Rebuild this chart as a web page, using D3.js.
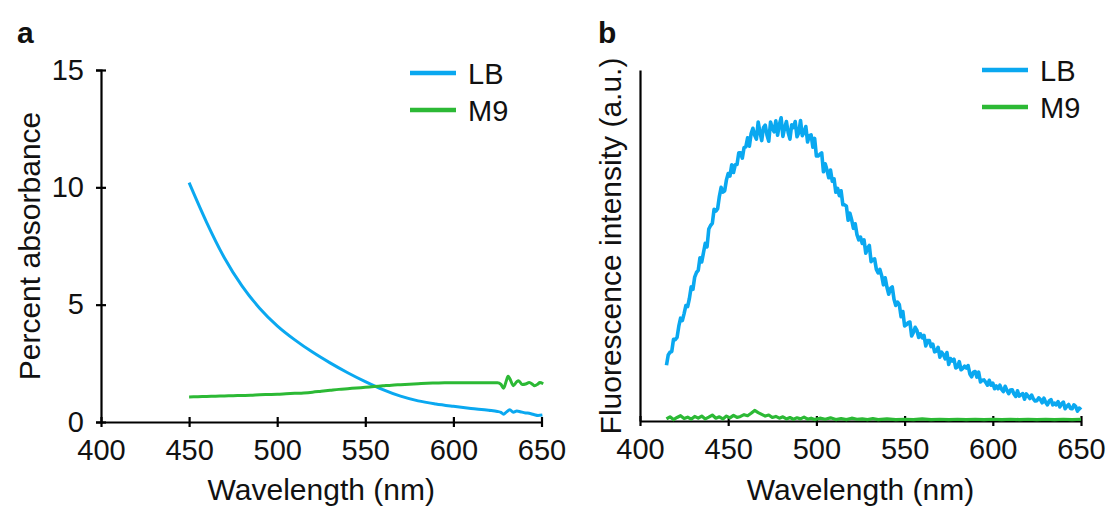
<!DOCTYPE html>
<html><head><meta charset="utf-8">
<script src="https://cdn.jsdelivr.net/npm/d3@7"></script>
<style>
html,body{margin:0;padding:0;background:#fff;}
text{font-family:"Liberation Sans",Arial,Helvetica,sans-serif;fill:#111;}
</style></head>
<body>
<svg id="chart" width="1113" height="509"></svg>
<script>
// ---------- DATA ----------
const xTicks = [400, 450, 500, 550, 600, 650];
const yTicksA = [0, 5, 10, 15];
const seriesNames = ["LB", "M9"];
const seriesColors = ["#0aa8f0", "#2cb935"];

// Panel a: percent absorbance
const absLBwl = [450,460,470,480,490,500,510,520,530,540,550,560,570,580,590,600,610,620,625,627,628.5,630,632,634,636,638,640,642,644,646,648,650.5];
const absLBval = [10.2,8.5,7.0,5.8,4.85,4.1,3.5,2.98,2.52,2.1,1.72,1.38,1.1,0.9,0.77,0.67,0.58,0.5,0.45,0.41,0.33,0.42,0.52,0.42,0.47,0.44,0.40,0.38,0.35,0.31,0.28,0.30];
const absM9wl = [450,455,460,465,470,475,480,485,490,495,500,505,510,515,520,525,530,535,540,545,550,555,560,565,570,575,580,585,590,595,600,605,610,615,620,625,627,628.5,630,631,632,634,636,637,639,641,643,645,646,648,649,651];
const absM9val = [1.07,1.08,1.09,1.1,1.11,1.12,1.13,1.14,1.16,1.17,1.18,1.2,1.22,1.24,1.27,1.31,1.35,1.39,1.42,1.45,1.48,1.51,1.54,1.57,1.59,1.61,1.63,1.65,1.66,1.67,1.67,1.67,1.67,1.67,1.67,1.67,1.6,1.44,1.75,1.95,1.85,1.55,1.72,1.76,1.6,1.62,1.68,1.6,1.54,1.62,1.68,1.63];

// Panel b: fluorescence intensity (a.u.), LB sampled every 1 nm from 415 nm
const fluoLBstart = 415;
const fluoLBval = [
0.159,0.188,0.196,0.198,0.233,0.232,0.238,0.270,0.293,0.286,
0.306,0.329,0.326,0.349,0.382,0.375,0.410,0.423,0.429,0.465,
0.453,0.480,0.506,0.496,0.547,0.557,0.563,0.603,0.598,0.605,
0.640,0.666,0.652,0.656,0.687,0.705,0.698,0.730,0.708,0.730,
0.731,0.764,0.764,0.749,0.779,0.781,0.807,0.783,0.819,0.834,
0.814,0.803,0.852,0.823,0.799,0.836,0.843,0.814,0.797,0.852,
0.835,0.824,0.855,0.814,0.845,0.864,0.811,0.835,0.853,0.822,
0.803,0.844,0.836,0.853,0.810,0.821,0.856,0.813,0.823,0.839,
0.795,0.813,0.815,0.780,0.805,0.755,0.755,0.760,0.764,0.710,
0.733,0.715,0.693,0.715,0.683,0.690,0.652,0.663,0.642,0.656,
0.616,0.616,0.612,0.572,0.592,0.573,0.549,0.562,0.531,0.516,
0.524,0.506,0.516,0.478,0.493,0.500,0.454,0.460,0.462,0.432,
0.422,0.432,0.414,0.388,0.408,0.381,0.361,0.378,0.382,0.347,
0.329,0.339,0.332,0.297,0.312,0.271,0.274,0.280,0.282,0.242,
0.252,0.267,0.258,0.238,0.248,0.237,0.244,0.214,0.229,0.229,
0.212,0.219,0.197,0.199,0.210,0.182,0.196,0.189,0.177,0.195,
0.161,0.178,0.171,0.176,0.151,0.154,0.169,0.146,0.150,0.156,
0.151,0.158,0.134,0.126,0.139,0.141,0.125,0.139,0.111,0.116,
0.117,0.110,0.102,0.116,0.102,0.108,0.092,0.100,0.092,0.102,
0.090,0.084,0.099,0.087,0.078,0.088,0.089,0.077,0.070,0.086,
0.071,0.075,0.078,0.062,0.077,0.071,0.064,0.074,0.063,0.057,
0.058,0.066,0.061,0.052,0.065,0.053,0.046,0.057,0.061,0.046,
0.051,0.046,0.055,0.040,0.049,0.054,0.035,0.042,0.047,0.036,
0.035,0.046,0.041,0.028,0.037,0.032];
const fluoM9wl = [415,417,419,421,423,425,427,429,431,433,435,437,439,441,443,445,447,449,451,453,455,457,459,461,463,465,467,469,471,473,475,477,479,481,483,485,487,489,491,493,495,497,499,502,505,508,511,514,517,520,523,526,529,532,535,540,545,550,555,560,565,570,575,580,585,590,595,600,605,610,615,620,625,630,635,640,645,650];
const fluoM9val = [0.006,0.012,0.004,0.010,0.015,0.007,0.011,0.005,0.013,0.008,0.014,0.006,0.011,0.017,0.008,0.012,0.006,0.014,0.009,0.016,0.010,0.013,0.018,0.015,0.022,0.030,0.024,0.019,0.014,0.017,0.010,0.013,0.008,0.012,0.006,0.010,0.005,0.009,0.006,0.011,0.005,0.008,0.004,0.008,0.005,0.009,0.004,0.007,0.004,0.008,0.005,0.006,0.004,0.007,0.004,0.006,0.004,0.005,0.004,0.006,0.004,0.005,0.004,0.005,0.004,0.005,0.004,0.005,0.004,0.005,0.004,0.005,0.004,0.005,0.004,0.005,0.004,0.005];

// ---------- DRAW ----------
const svg = d3.select("#chart");
const FS = 29, TFS = 30;

function zip(xs, ys){ return xs.map((x,i)=>[x, ys[i]]); }

function panel(opt){
  const g = svg.append("g");
  const x = d3.scaleLinear().domain([400,650]).range(opt.xr);
  const y = d3.scaleLinear().domain(opt.yd).range(opt.yr);
  const line = d3.line().x(d=>x(d[0])).y(d=>y(d[1])).curve(opt.curve);

  // x axis
  const xa = g.append("g").attr("transform",`translate(0,${opt.yr[0]})`)
    .call(d3.axisBottom(x).tickValues(xTicks).tickSize(5).tickSizeOuter(0).tickPadding(12));
  xa.select(".domain").attr("stroke","#000").attr("stroke-width",2.2);
  xa.selectAll(".tick line").attr("y1",-5).attr("stroke","#000").attr("stroke-width",2.2);
  xa.selectAll(".tick text").attr("font-size",FS).attr("fill","#111")
    .style("font-family","'Liberation Sans',Arial,sans-serif");

  // y axis
  const yAxis = d3.axisLeft(y).tickSizeOuter(0).tickPadding(12);
  if(opt.yTicks){ yAxis.tickValues(opt.yTicks).tickSize(5); } else { yAxis.tickValues([]).tickSize(0); }
  const ya = g.append("g").attr("transform",`translate(${opt.xr[0]},0)`).call(yAxis);
  ya.select(".domain").attr("stroke","#000").attr("stroke-width",2.2);
  ya.selectAll(".tick line").attr("x1",5).attr("stroke","#000").attr("stroke-width",2.2);
  ya.selectAll(".tick text").attr("font-size",FS).attr("fill","#111")
    .style("font-family","'Liberation Sans',Arial,sans-serif");

  opt.series.forEach((s,i)=>{
    g.append("path").datum(s).attr("d",line).attr("fill","none")
      .attr("stroke",seriesColors[i]).attr("stroke-width",opt.lw[i])
      .attr("stroke-linejoin","round").attr("stroke-linecap","butt");
  });

  // axis titles
  g.append("text").attr("x",(opt.xr[0]+opt.xr[1])/2).attr("y",500)
    .attr("text-anchor","middle").attr("font-size",TFS).text("Wavelength (nm)");
  g.append("text").attr("transform",`translate(${opt.ytx},${opt.yty}) rotate(-90)`)
    .attr("text-anchor","middle").attr("font-size",TFS).text(opt.ytitle);

  // panel letter
  g.append("text").attr("x",opt.letterX).attr("y",43).attr("font-size",30)
    .attr("font-weight","bold").attr("fill","#000").text(opt.letter);

  // legend
  seriesNames.forEach((n,i)=>{
    const ly = opt.legY + i*37;
    g.append("line").attr("x1",opt.legX).attr("x2",opt.legX+46)
      .attr("y1",ly).attr("y2",ly).attr("stroke",seriesColors[i]).attr("stroke-width",4.5);
    g.append("text").attr("x",opt.legX+58).attr("y",ly+10.5)
      .attr("font-size",FS).text(n);
  });
}

panel({
  xr:[101,541.5], yr:[422,70], yd:[0,15], yTicks:yTicksA, lw:[3,3], curve:d3.curveMonotoneX,
  series:[zip(absLBwl,absLBval), zip(absM9wl,absM9val)],
  ytitle:"Percent absorbance", ytx:40, yty:246,
  letter:"a", letterX:17, legX:410, legY:73
});

const fluoLBwl = fluoLBval.map((v,i)=>fluoLBstart+i);
panel({
  xr:[640,1081], yr:[421,70], yd:[0,1], yTicks:null, lw:[3.6,3.2], curve:d3.curveLinear,
  series:[zip(fluoLBwl,fluoLBval), zip(fluoM9wl,fluoM9val)],
  ytitle:"Fluorescence intensity (a.u.)", ytx:621, yty:246,
  letter:"b", letterX:598, legX:982, legY:70
});
</script>
</body></html>
